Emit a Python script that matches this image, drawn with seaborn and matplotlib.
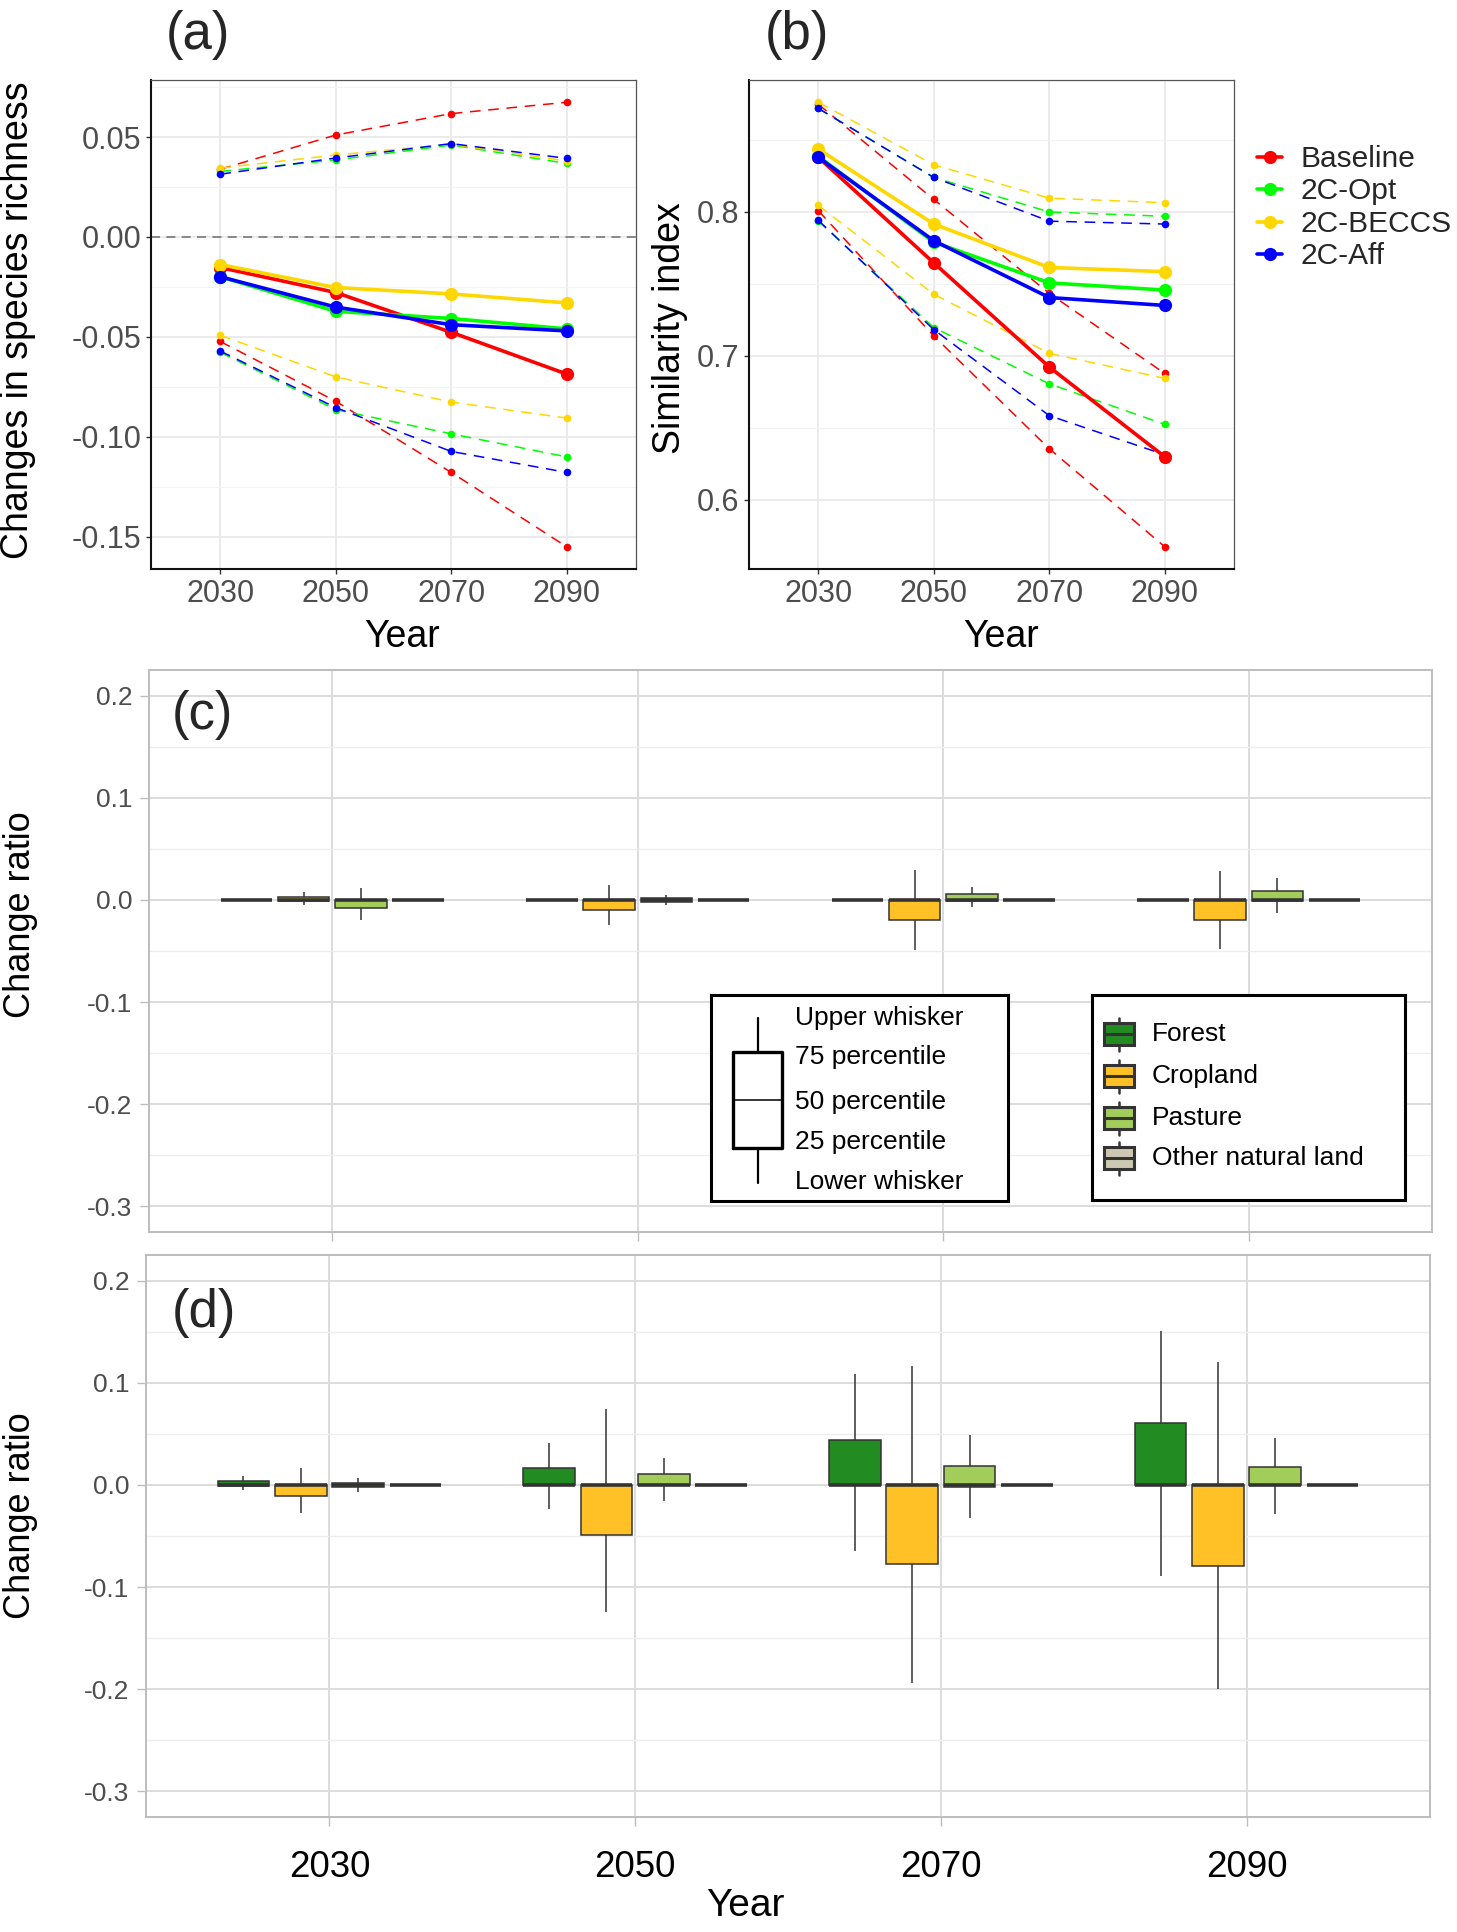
import numpy as np
import pandas as pd
import matplotlib
matplotlib.use("Agg")
import matplotlib.pyplot as plt
import seaborn as sns
from matplotlib.lines import Line2D
from matplotlib.ticker import MultipleLocator, FormatStrFormatter

# ---------------- data ----------------
years = [2030, 2050, 2070, 2090]
scenarios = ["Baseline", "2C-Opt", "2C-BECCS", "2C-Aff"]
scenario_colors = ["#FF0000", "#00FF00", "#FFD700", "#0000FF"]

# (a) changes in species richness
richness_mean = {
    "Baseline": [-0.0153, -0.0278, -0.0477, -0.0686],
    "2C-Opt":   [-0.0199, -0.0372, -0.0408, -0.0460],
    "2C-BECCS": [-0.0138, -0.0253, -0.0285, -0.0330],
    "2C-Aff":   [-0.0199, -0.0351, -0.0439, -0.0470],
}
richness_upper = {
    "Baseline": [0.0339, 0.0510, 0.0617, 0.0674],
    "2C-Opt":   [0.0328, 0.0385, 0.0460, 0.0368],
    "2C-BECCS": [0.0345, 0.0410, 0.0464, 0.0380],
    "2C-Aff":   [0.0314, 0.0395, 0.0467, 0.0393],
}
richness_lower = {
    "Baseline": [-0.0523, -0.0822, -0.1178, -0.1550],
    "2C-Opt":   [-0.0577, -0.0864, -0.0985, -0.1100],
    "2C-BECCS": [-0.0492, -0.0700, -0.0826, -0.0906],
    "2C-Aff":   [-0.0571, -0.0854, -0.1073, -0.1178],
}

# (b) similarity index
similarity_mean = {
    "Baseline": [0.8380, 0.7646, 0.6922, 0.6298],
    "2C-Opt":   [0.8386, 0.7790, 0.7507, 0.7457],
    "2C-BECCS": [0.8438, 0.7916, 0.7614, 0.7585],
    "2C-Aff":   [0.8380, 0.7800, 0.7405, 0.7350],
}
similarity_upper = {
    "Baseline": [0.8749, 0.8087, 0.7434, 0.6877],
    "2C-Opt":   [0.8720, 0.8240, 0.8000, 0.7970],
    "2C-BECCS": [0.8763, 0.8328, 0.8096, 0.8064],
    "2C-Aff":   [0.8720, 0.8240, 0.7936, 0.7916],
}
similarity_lower = {
    "Baseline": [0.8009, 0.7138, 0.6354, 0.5672],
    "2C-Opt":   [0.7936, 0.7196, 0.6805, 0.6523],
    "2C-BECCS": [0.8046, 0.7428, 0.7017, 0.6843],
    "2C-Aff":   [0.7942, 0.7182, 0.6584, 0.6312],
}

land_types = ["Forest", "Cropland", "Pasture", "Other natural land"]
land_colors = ["#228B22", "#FFC125", "#A2CD5A", "#CDC8B1"]

# (c) change ratio: whiskers and percentiles per land type, one value per year
c_lower = {"Forest": [0, 0, 0, 0], "Cropland": [-0.0045, -0.0250, -0.0487, -0.0480],
           "Pasture": [-0.0192, -0.0049, -0.0071, -0.0133], "Other natural land": [0, 0, 0, 0]}
c_q25 = {"Forest": [0, 0, 0, 0], "Cropland": [-0.0013, -0.0101, -0.0198, -0.0195],
         "Pasture": [-0.0081, -0.0016, -0.0010, -0.0010], "Other natural land": [0, 0, 0, 0]}
c_q50 = {"Forest": [0, 0, 0, 0], "Cropland": [0, 0, 0, 0],
         "Pasture": [0, 0, 0, 0], "Other natural land": [0, 0, 0, 0]}
c_q75 = {"Forest": [0, 0, 0, 0], "Cropland": [0.0026, 0, 0, 0],
         "Pasture": [0, 0.0016, 0.0055, 0.0088], "Other natural land": [0, 0, 0, 0]}
c_upper = {"Forest": [0, 0, 0, 0], "Cropland": [0.0075, 0.0146, 0.0292, 0.0286],
           "Pasture": [0.0114, 0.0049, 0.0127, 0.0214], "Other natural land": [0, 0, 0, 0]}

# (d)
d_lower = {"Forest": [-0.0045, -0.0238, -0.0645, -0.0889], "Cropland": [-0.0278, -0.1244, -0.1935, -0.1995],
           "Pasture": [-0.0065, -0.0156, -0.0322, -0.0287], "Other natural land": [0, 0, 0, 0]}
d_q25 = {"Forest": [-0.0010, 0, 0, 0], "Cropland": [-0.0110, -0.0495, -0.0772, -0.0795],
         "Pasture": [-0.0020, 0, -0.0020, 0], "Other natural land": [0, 0, 0, 0]}
d_q50 = {"Forest": [0, 0, 0, 0], "Cropland": [0, 0, 0, 0],
         "Pasture": [0, 0, 0, 0], "Other natural land": [0, 0, 0, 0]}
d_q75 = {"Forest": [0.0036, 0.0163, 0.0437, 0.0603], "Cropland": [0, 0, 0, 0],
         "Pasture": [0.0020, 0.0107, 0.0182, 0.0176], "Other natural land": [0, 0, 0, 0]}
d_upper = {"Forest": [0.0084, 0.0414, 0.1088, 0.1505], "Cropland": [0.0165, 0.0739, 0.1166, 0.1205],
           "Pasture": [0.0068, 0.0267, 0.0492, 0.0456], "Other natural land": [0, 0, 0, 0]}

box_legend_labels = ["Upper whisker", "75 percentile", "50 percentile", "25 percentile", "Lower whisker"]

# ---------------- helpers ----------------
def line_frame(mean, upper, lower):
    rows = []
    for s in scenarios:
        for bound, src in (("mean", mean), ("upper", upper), ("lower", lower)):
            for yr, v in zip(years, src[s]):
                rows.append(dict(Scenario=s, Year=yr, bound=bound, value=v))
    return pd.DataFrame(rows)


def box_frame(lo, q1, q2, q3, hi):
    rows = []
    for land in land_types:
        for i, yr in enumerate(years):
            for v in (lo[land][i], q1[land][i], q2[land][i], q3[land][i], hi[land][i]):
                rows.append(dict(Year=str(yr), Land=land, value=v))
    return pd.DataFrame(rows)


sns.set_theme(style="white")
plt.rcParams["font.family"] = ["Liberation Sans", "DejaVu Sans"]
plt.rcParams["axes.unicode_minus"] = False

W, H = 1457, 1932
fig = plt.figure(figsize=(W / 100, H / 100), dpi=100)
fig.patch.set_facecolor("white")


def rect(left, top, right, bottom):
    return [left / W, 1 - bottom / H, (right - left) / W, (bottom - top) / H]


def style_line_axes(ax, df, major, minor, fmt):
    lo, hi = df["value"].min(), df["value"].max()
    pad = 0.05 * (hi - lo)
    ax.set_ylim(lo - pad, hi + pad)
    ax.set_xlim(years[0] - 0.6 * 20, years[-1] + 0.6 * 20)
    ax.set_xticks(years)
    ax.yaxis.set_major_locator(MultipleLocator(major))
    ax.yaxis.set_minor_locator(MultipleLocator(minor))
    ax.yaxis.set_major_formatter(FormatStrFormatter(fmt))
    ax.set_axisbelow(True)
    ax.grid(True, which="major", color="#EBEBEB", linewidth=1.4)
    ax.grid(True, which="minor", axis="y", color="#F3F3F3", linewidth=0.8)
    ax.tick_params(which="major", length=3.5, width=1.0, color="#333333", pad=3.5,
                   labelsize=22, labelcolor="#4D4D4D", left=True, bottom=True)
    ax.tick_params(which="minor", length=0)
    for side in ("top", "right"):
        ax.spines[side].set_color("#555555")
        ax.spines[side].set_linewidth(0.9)
    for side in ("left", "bottom"):
        ax.spines[side].set_color("#111111")
        ax.spines[side].set_linewidth(1.5)
    ax.set_xlabel("Year", fontsize=27, color="black")


def draw_lines(ax, df):
    sns.lineplot(data=df[df["bound"] != "mean"], x="Year", y="value", hue="Scenario",
                 hue_order=scenarios, palette=scenario_colors, units="bound", estimator=None,
                 linewidth=1.1, linestyle=(0, (7, 5)), marker="o", markersize=5.5,
                 markeredgewidth=0, legend=False, ax=ax)
    sns.lineplot(data=df[df["bound"] == "mean"], x="Year", y="value", hue="Scenario",
                 hue_order=scenarios, palette=scenario_colors, estimator=None,
                 linewidth=2.6, marker="o", markersize=9.5, markeredgewidth=0,
                 legend=False, ax=ax)


# ---------------- panel (a) ----------------
ax_a = fig.add_axes(rect(151, 80, 636, 569))
df_a = line_frame(richness_mean, richness_upper, richness_lower)
ax_a.axhline(0, color="#808080", linewidth=1.3, linestyle=(0, (5, 3.5)), zorder=1)
draw_lines(ax_a, df_a)
style_line_axes(ax_a, df_a, 0.05, 0.025, "%.2f")
ax_a.set_ylabel("Changes in species richness", fontsize=27, color="black")
ax_a.yaxis.set_label_coords(-0.237, 0.509)
ax_a.xaxis.set_label_coords(0.517, -0.102)

# ---------------- panel (b) ----------------
ax_b = fig.add_axes(rect(749, 80, 1234, 569))
df_b = line_frame(similarity_mean, similarity_upper, similarity_lower)
draw_lines(ax_b, df_b)
style_line_axes(ax_b, df_b, 0.1, 0.05, "%.1f")
ax_b.set_ylabel("Similarity index", fontsize=27, color="black")
ax_b.yaxis.set_label_coords(-0.126, 0.492)
ax_b.xaxis.set_label_coords(0.52, -0.102)

handles = [Line2D([], [], color=c, linewidth=2.6, marker="o", markersize=9.5,
                  markeredgewidth=0) for c in scenario_colors]
fig.legend(handles, scenarios, loc="upper left",
           bbox_to_anchor=(1257 / W, 1 - 145 / H), bbox_transform=fig.transFigure,
           frameon=False, fontsize=21.5, handlelength=0.85, handletextpad=0.6,
           labelspacing=0.15, borderpad=0, borderaxespad=0)

fig.text(166 / W, 1 - 35 / H, "(a)", fontsize=38, va="center", ha="left")
fig.text(765 / W, 1 - 35 / H, "(b)", fontsize=38, va="center", ha="left")


# ---------------- panels (c) and (d) ----------------
def draw_box_panel(ax, df):
    sns.boxplot(data=df, x="Year", y="value", hue="Land", order=[str(y) for y in years],
                hue_order=land_types, palette=land_colors, saturation=1, width=0.75, gap=0.1,
                whis=(0, 100), showfliers=False, linecolor="#333333", linewidth=1.1,
                medianprops=dict(linewidth=2.6), capprops=dict(visible=False),
                legend=False, ax=ax)
    ax.set_xlim(-0.6, len(years) - 0.4)
    ax.set_ylim(-0.3 - 0.025, 0.2 + 0.025)
    ax.yaxis.set_major_locator(MultipleLocator(0.1))
    ax.yaxis.set_minor_locator(MultipleLocator(0.05))
    ax.yaxis.set_major_formatter(FormatStrFormatter("%.1f"))
    ax.set_axisbelow(True)
    ax.grid(True, which="major", color="#DCDCDC", linewidth=1.4)
    ax.grid(True, which="minor", axis="y", color="#EDEDED", linewidth=0.9)
    ax.tick_params(which="major", length=6.5, width=1.0, color="#BDBDBD", pad=5.5,
                   left=True, bottom=True)
    ax.tick_params(axis="y", labelsize=19, labelcolor="#4D4D4D")
    ax.tick_params(which="minor", length=0)
    for side in ax.spines:
        ax.spines[side].set_color("#BDBDBD")
        ax.spines[side].set_linewidth(1.4)
    ax.set_ylabel("Change ratio", fontsize=26, color="black")


ax_c = fig.add_axes(rect(149, 670, 1432, 1232))
draw_box_panel(ax_c, box_frame(c_lower, c_q25, c_q50, c_q75, c_upper))
ax_c.tick_params(axis="x", labelbottom=False)
ax_c.set_xlabel("")
ax_c.yaxis.set_label_coords(-0.0865, 0.564)

ax_d = fig.add_axes(rect(146, 1255, 1430, 1817))
draw_box_panel(ax_d, box_frame(d_lower, d_q25, d_q50, d_q75, d_upper))
ax_d.tick_params(axis="x", labelsize=26.5, labelcolor="black", pad=17)
ax_d.set_xlabel("Year", fontsize=28, color="black")
ax_d.xaxis.set_label_coords(0.467, -0.127)
ax_d.yaxis.set_label_coords(-0.084, 0.537)

fig.text(172 / W, 1 - 715 / H, "(c)", fontsize=38, va="center", ha="left")
fig.text(172 / W, 1 - 1313 / H, "(d)", fontsize=38, va="center", ha="left")

# ---------------- box explanation legend ----------------
ax_k = fig.add_axes(rect(711, 995, 1008, 1201))
ax_k.set_xlim(0, 297)
ax_k.set_ylim(0, 206)
ax_k.set_xticks([])
ax_k.set_yticks([])
ax_k.set_facecolor("white")
for s in ax_k.spines.values():
    s.set_color("black")
    s.set_linewidth(2.2)
ax_k.bxp([dict(med=101, q1=53, q3=149, whislo=18, whishi=183, fliers=[])],
         positions=[46.5], widths=[49], showcaps=False, showfliers=False,
         boxprops=dict(color="black", linewidth=2.4),
         whiskerprops=dict(color="black", linewidth=1.6),
         medianprops=dict(color="black", linewidth=1.1), manage_ticks=False)
for lab, yy in zip(box_legend_labels, [183, 144, 99, 59, 19]):
    ax_k.text(84, yy, lab, fontsize=19, va="center", ha="left", color="black")

# ---------------- land type legend ----------------
ax_l = fig.add_axes(rect(1092, 995, 1405, 1200))
ax_l.set_xlim(0, 313)
ax_l.set_ylim(0, 205)
ax_l.set_xticks([])
ax_l.set_yticks([])
ax_l.set_facecolor("white")
for s in ax_l.spines.values():
    s.set_color("black")
    s.set_linewidth(2.2)
key_y = [166, 124, 82, 42]
for land, col, yy in zip(land_types, land_colors, key_y):
    ax_l.bxp([dict(med=yy, q1=yy - 11, q3=yy + 11, whislo=yy - 16.5, whishi=yy + 16.5, fliers=[])],
             positions=[27], widths=[30], showcaps=False, showfliers=False, patch_artist=True,
             boxprops=dict(facecolor=col, edgecolor="#333333", linewidth=2.2),
             whiskerprops=dict(color="#333333", linewidth=1.8),
             medianprops=dict(color="#333333", linewidth=2.2), manage_ticks=False)
    ax_l.text(60, yy, land, fontsize=19, va="center", ha="left", color="black")

fig.savefig("out.png", dpi=100, facecolor="white")
